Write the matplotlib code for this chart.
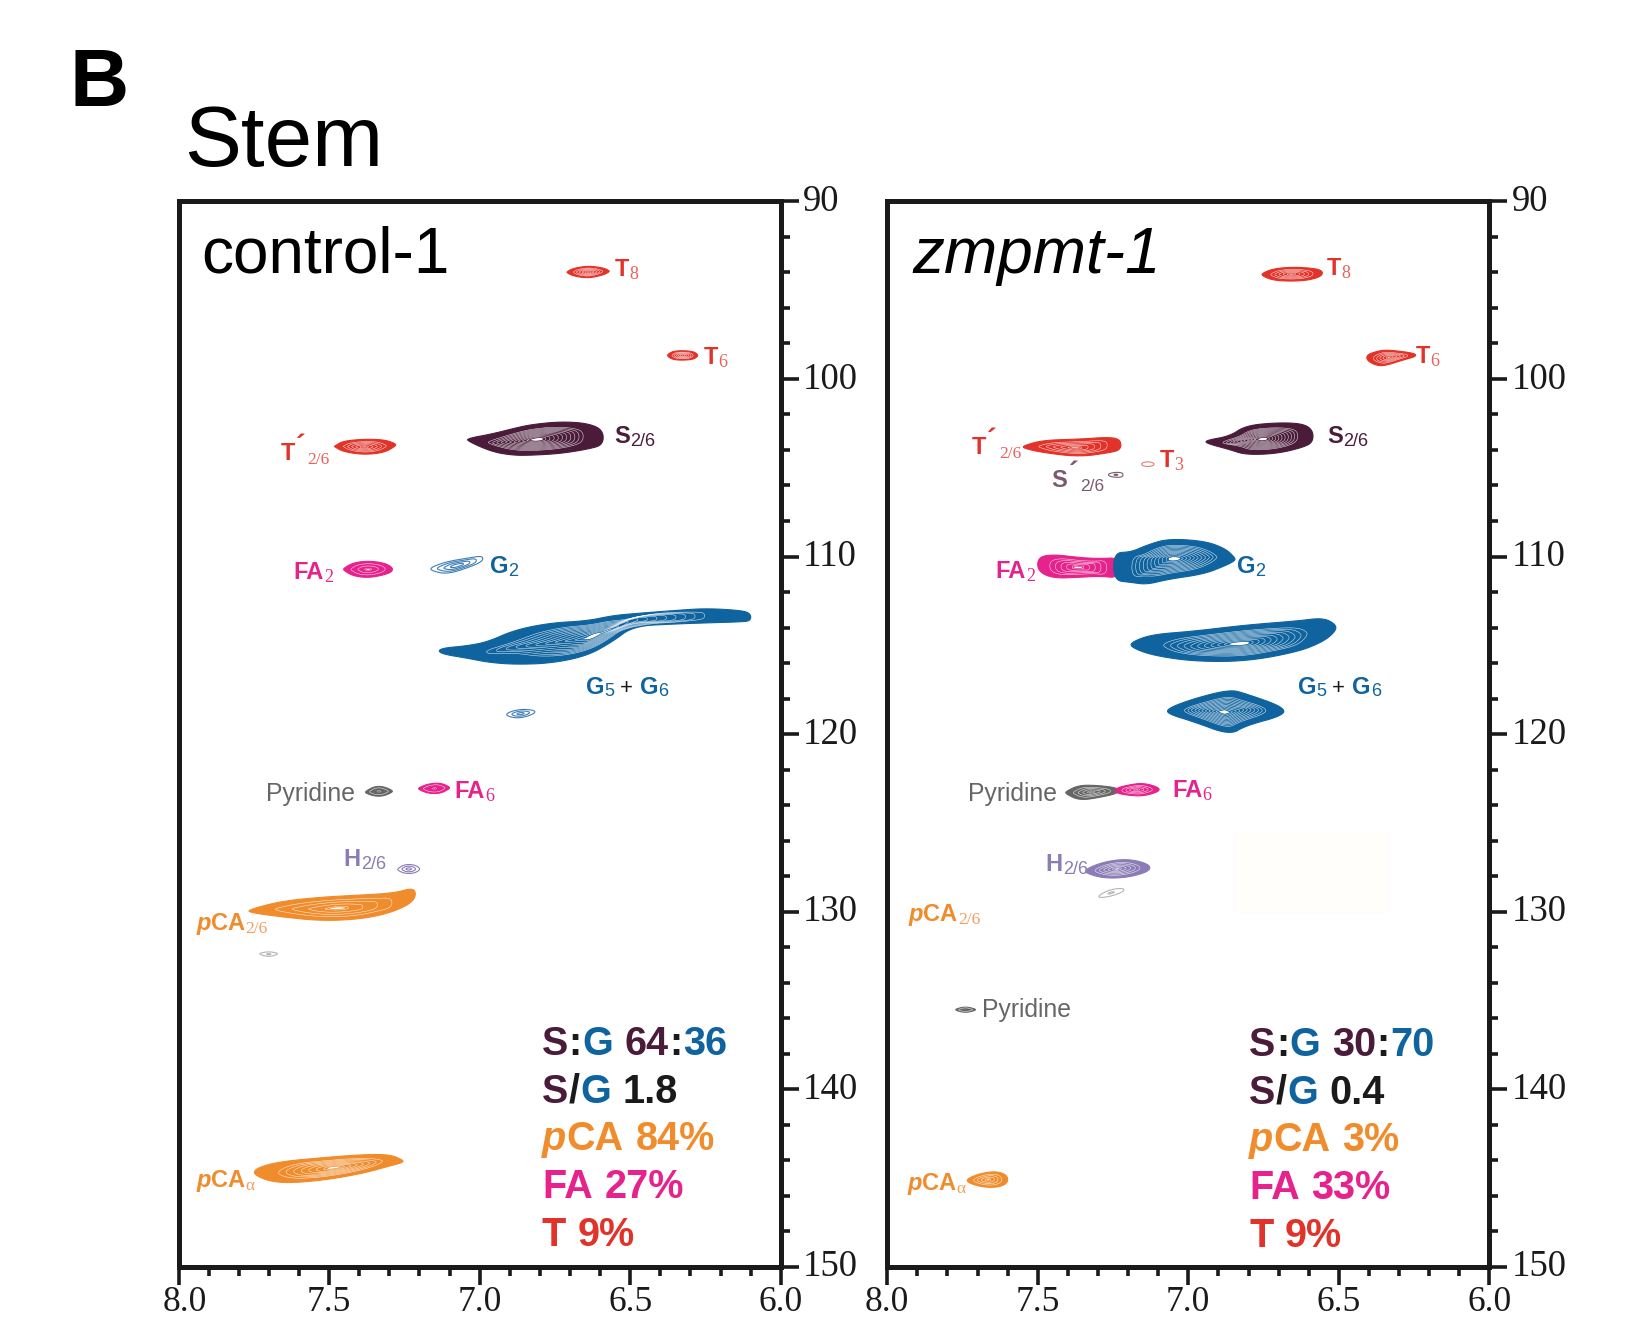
import numpy as np
import matplotlib
matplotlib.use("Agg")
import matplotlib.pyplot as plt
from matplotlib.patches import FancyBboxPatch, Polygon
from matplotlib.transforms import ScaledTranslation

# peaks as (1H ppm, upper 13C ppm, lower 13C ppm)
t8_ctrl = ([6.71, 6.69, 6.64, 6.59, 6.57], [93.98, 93.77, 93.63, 93.74, 93.92], [94.0, 94.2, 94.33, 94.15, 93.95])
t6_ctrl = ([6.376, 6.36, 6.33, 6.29, 6.276], [98.65, 98.45, 98.4, 98.45, 98.65], [98.7, 98.9, 98.95, 98.9, 98.7])
tp26_ctrl = ([7.483, 7.455, 7.386, 7.317, 7.279], [103.8, 103.5, 103.39, 103.42, 103.68], [103.8, 104.09, 104.27, 104.15, 103.74])
s26_ctrl = ([7.04, 6.96, 6.89, 6.83, 6.73, 6.64, 6.59], [103.4, 103.1, 102.8, 102.57, 102.4, 102.5, 103.0], [103.45, 104.1, 104.3, 104.3, 104.2, 103.95, 103.6])
fa2_ctrl = ([7.452, 7.42, 7.37, 7.32, 7.29], [110.7, 110.35, 110.25, 110.35, 110.65], [110.75, 111.1, 111.2, 111.05, 110.8])
g2_ctrl = ([7.162, 7.11, 7.04, 6.99], [110.65, 110.29, 110.09, 110.0], [110.75, 111.0, 110.64, 110.23])
g56_ctrl = ([7.134, 7.041, 6.972, 6.886, 6.766, 6.645, 6.559, 6.49, 6.352, 6.248, 6.128, 6.1],
            [115.26, 115.03, 114.8, 114.15, 113.74, 113.63, 113.33, 113.22, 113.04, 112.92, 113.04, 113.33],
            [115.38, 115.73, 115.96, 116.08, 116.02, 115.61, 114.8, 113.92, 113.8, 113.74, 113.68, 113.51])
g_small_ctrl = ([6.91, 6.88, 6.85, 6.817], [118.85, 118.65, 118.6, 118.7], [118.95, 119.1, 119.05, 118.8])
pyr_ctrl = ([7.379, 7.35, 7.32, 7.29], [123.25, 122.95, 122.95, 123.2], [123.3, 123.5, 123.5, 123.25])
fa6_ctrl = ([7.203, 7.17, 7.13, 7.1], [123.05, 122.8, 122.75, 123.0], [123.1, 123.35, 123.35, 123.05])
h26_ctrl = ([7.272, 7.25, 7.22, 7.2], [127.6, 127.35, 127.35, 127.55], [127.65, 127.85, 127.85, 127.65])
pca26_ctrl = ([7.766, 7.662, 7.524, 7.386, 7.283, 7.214], [129.94, 129.42, 129.18, 129.06, 128.95, 128.71], [130.0, 130.29, 130.53, 130.41, 130.0, 129.3])
grey_ctrl = ([7.73, 7.7, 7.672], [132.35, 132.25, 132.35], [132.4, 132.55, 132.4])
pcaa_ctrl = ([7.748, 7.669, 7.524, 7.386, 7.3, 7.255], [144.56, 144.09, 143.86, 143.68, 143.68, 144.03], [144.8, 145.32, 145.15, 144.74, 144.33, 144.09])

t8_mut = ([6.755, 6.72, 6.66, 6.6, 6.555], [94.09, 93.8, 93.7, 93.74, 93.92], [94.15, 94.44, 94.5, 94.44, 94.15])
t6_mut = ([6.407, 6.375, 6.345, 6.29, 6.245], [98.7, 98.45, 98.36, 98.45, 98.62], [98.9, 99.25, 99.25, 98.95, 98.7])
tp26_mut = ([7.548, 7.483, 7.362, 7.259, 7.224], [103.8, 103.45, 103.39, 103.27, 103.5], [103.86, 104.15, 104.39, 104.15, 103.92])
t3_mut = ([7.155, 7.135, 7.114], [104.75, 104.65, 104.75], [104.85, 104.95, 104.85])
sp26_mut = ([7.265, 7.24, 7.217], [105.35, 105.25, 105.3], [105.45, 105.55, 105.5])
s26_mut = ([6.941, 6.862, 6.81, 6.707, 6.62, 6.586], [103.51, 103.22, 102.63, 102.46, 102.51, 103.0], [103.57, 103.98, 104.27, 104.21, 103.86, 103.45])
fa2_mut = ([7.5, 7.448, 7.362, 7.293, 7.23], [110.12, 109.88, 110.06, 110.12, 110.1], [110.76, 111.23, 111.17, 111.11, 111.17])
g2_mut = ([7.248, 7.19, 7.138, 7.069, 6.948, 6.879, 6.845], [109.9, 109.75, 109.36, 109.0, 109.12, 109.53, 110.12], [111.23, 111.46, 111.58, 111.29, 110.99, 110.53, 110.18])
g56a_mut = ([7.19, 7.121, 6.983, 6.81, 6.638, 6.552, 6.51], [114.91, 114.39, 114.21, 113.86, 113.63, 113.45, 113.92], [115.03, 115.56, 115.91, 115.91, 115.38, 114.8, 114.1])
g56b_mut = ([7.069, 6.983, 6.862, 6.81, 6.683], [118.65, 118.01, 117.49, 117.72, 118.6], [118.77, 119.3, 120.06, 119.53, 118.83])
pyr_mut = ([7.407, 7.362, 7.293, 7.231], [123.27, 122.87, 122.9, 123.1], [123.33, 123.74, 123.57, 123.27])
fa6_mut = ([7.241, 7.2, 7.15, 7.097], [123.1, 122.87, 122.75, 123.05], [123.27, 123.45, 123.5, 123.2])
h26_mut = ([7.341, 7.28, 7.2, 7.128], [127.66, 127.19, 127.02, 127.4], [127.78, 128.13, 128.08, 127.66])
grey_mut = ([7.297, 7.259, 7.214], [129.1, 128.75, 128.7], [129.2, 129.15, 128.85])
pyr2_mut = ([7.772, 7.74, 7.707], [135.5, 135.35, 135.5], [135.55, 135.7, 135.55])
pcaa_mut = ([7.734, 7.69, 7.638, 7.6], [145.09, 144.74, 144.62, 144.91], [145.2, 145.5, 145.55, 145.26])

x_major = [8.0, 7.5, 7.0, 6.5, 6.0]
x_minor = [7.9, 7.8, 7.7, 7.6, 7.4, 7.3, 7.2, 7.1, 6.9, 6.8, 6.7, 6.6, 6.4, 6.3, 6.2, 6.1]
y_major = [90, 100, 110, 120, 130, 140, 150]
y_minor = [92, 94, 96, 98, 102, 104, 106, 108, 112, 114, 116, 118, 122, 124, 126, 128, 132, 134, 136, 138, 142, 144, 146, 148]

PURPLE = "#4a1c3a"
BLUE = "#0f639f"
ORANGE = "#f08c2b"
PINK = "#e6228c"
RED = "#e2332a"
GREY = "#666666"
LILAC = "#8b7cb6"
BLACK = "#1a1a1a"
SANS = "Liberation Sans"
SERIF = "Liberation Serif"

W, H = 1628, 1317
SCALE = W / 1568  # label positions below were read on the shrunk view

plt.rcParams["font.family"] = SANS
fig = plt.figure(figsize=(W / 100, H / 100), dpi=100)
renderer = fig.canvas.get_renderer()


def chaikin(pts, rounds=3):
    for _ in range(rounds):
        nxt = np.roll(pts, -1, axis=0)
        pts = np.column_stack([0.75 * pts + 0.25 * nxt, 0.25 * pts + 0.75 * nxt]).reshape(-1, 2)
    return pts


def outline(peak, s):
    x = np.array(peak[0])
    top = np.array(peak[1])
    bot = np.array(peak[2])
    mid = (top + bot) / 2
    half = (bot - top) / 2
    # fatten only the tips, contours are round there and not pointed
    half[[0, -1]] = half.max() * (half[[0, -1]] / half.max()) ** 0.7
    xc = x.mean()
    xs = xc + (x - xc) * s
    # np.interp needs rising x, ppm runs downwards
    ms = np.interp(xs[::-1], x[::-1], mid[::-1])[::-1]
    upper = np.column_stack([xs, ms - half * s])
    lower = np.column_stack([xs, ms + half * s])
    return chaikin(np.vstack([upper, lower[::-1]]))


def draw_peak(ax, peak, color, levels=10, solid=True):
    if solid:
        ax.add_patch(Polygon(outline(peak, 1.0), closed=True, fc=color, ec=color, lw=0.8, zorder=3))
        for s in np.linspace(0.7, 0.14, levels):
            pts = outline(peak, s)
            ax.add_patch(Polygon(pts, closed=True, fc="none", ec="white", lw=0.38, alpha=0.85, zorder=4))
        ax.add_patch(Polygon(outline(peak, 0.1), closed=True, fc="white", ec=color, lw=0.4, zorder=5))
    else:
        for s in np.linspace(1.0, 0.25, levels):
            ax.add_patch(Polygon(outline(peak, s), closed=True, fc="none", ec=color, lw=0.8, zorder=3))


def write(x, y, pieces):
    # x, y = left end and baseline on the shrunk view; pieces are written one after another
    px = x * SCALE
    py = y * SCALE
    for p in pieces:
        text, color, size = p[:3]
        opts = p[3] if len(p) > 3 else {}
        if text == " ":
            px += 0.278 * size * 100 / 72
            continue
        dy = opts.get("dy", 0)
        t = fig.text(px / W, 1 - (py + dy) / H, text, color=color, fontsize=size, va="baseline", ha="left",
                     family=opts.get("family", SANS), style=opts.get("style", "normal"),
                     weight=opts.get("weight", "bold"))
        px = t.get_window_extent(renderer).x1 + opts.get("gap", 0.5)


def main_sub(text, sub, color, serif=True, light=None):
    fam = SERIF if serif else SANS
    return [(text, color, 17, {"gap": 0}),
            (sub, light or color, 13, {"family": fam, "weight": "normal", "dy": 3})]


def g56(x, y):
    write(x, y, [("G", BLUE, 17, {"gap": 0}), ("5", BLUE, 13, {"weight": "normal", "dy": 2, "gap": 6}),
                 ("+", BLACK, 16, {"weight": "normal", "gap": 7}),
                 ("G", BLUE, 17, {"gap": 0}), ("6", BLUE, 13, {"weight": "normal", "dy": 2})])


def pca(x, y, sub, family):
    write(x, y, [("p", ORANGE, 17, {"style": "italic"}), ("CA", ORANGE, 17),
                 (sub, "#f0a060", 12.5, {"family": family, "weight": "normal", "dy": 3})])


def prime(x, y, letter, color, light, sub_family):
    write(x, y, [(letter, color, 17, {"gap": 1}), ("´", color, 21, {"dy": -5, "gap": 2}),
                 ("2/6", light, 12.5, {"family": sub_family, "weight": "normal", "dy": 4})])


def summary(x, y0, lines):
    for i, line in enumerate(lines):
        write(x, y0 + i * 46, [(t, c, 28.5, {"style": "italic"} if t == "p" else {"gap": 0.5}) for t, c in line])


def setup_axes(left, shift_first=0):
    ax = fig.add_axes([left / W, 1 - 1266.7 / H, 602.2 / W, 1065.3 / H])
    ax.set_xlim(8, 6)
    ax.set_ylim(150, 90)
    ax.yaxis.tick_right()
    for side in ax.spines.values():
        side.set_linewidth(3.6)
        side.set_color(BLACK)
    ax.set_xticks(x_major)
    ax.set_xticks(x_minor, minor=True)
    ax.set_yticks(y_major)
    ax.set_yticks(y_minor, minor=True)
    ax.set_xticklabels(["8.0", "7.5", "7.0", "6.5", "6.0"], family=SERIF, fontsize=25.5, color=BLACK)
    ax.set_yticklabels([str(v) for v in y_major], family=SERIF, fontsize=26.5, color=BLACK)
    ax.tick_params(which="major", length=13, width=2.6, color=BLACK, pad=1)
    ax.tick_params(axis="y", which="major", pad=3)
    ax.tick_params(which="minor", length=6.5, width=2.6, color=BLACK)
    for lab in ax.get_yticklabels():
        lab.set_transform(lab.get_transform() + ScaledTranslation(0, 2.5 / 72, fig.dpi_scale_trans))
    if shift_first:
        first = ax.get_xticklabels()[0]
        first.set_transform(first.get_transform() + ScaledTranslation(shift_first / 100, 0, fig.dpi_scale_trans))
    return ax


ax1 = setup_axes(178.6, shift_first=6)
ax2 = setup_axes(887.2)

ax2.add_patch(FancyBboxPatch((6.335, 125.6), 0.51, 4.5, boxstyle="round,pad=0,rounding_size=0.03",
                             mutation_aspect=8, fc="#fffefb", ec="#fdfcf8", lw=0.6, zorder=1))

for peak in [t8_ctrl, t6_ctrl, tp26_ctrl]:
    draw_peak(ax1, peak, RED, levels=5)
draw_peak(ax1, s26_ctrl, PURPLE, levels=10)
draw_peak(ax1, fa2_ctrl, PINK, levels=3)
draw_peak(ax1, g2_ctrl, "#3f7fb5", levels=4, solid=False)
draw_peak(ax1, g56_ctrl, BLUE, levels=10)
draw_peak(ax1, g_small_ctrl, "#3f7fb5", levels=3, solid=False)
draw_peak(ax1, pyr_ctrl, GREY, levels=2)
draw_peak(ax1, fa6_ctrl, PINK, levels=2)
draw_peak(ax1, h26_ctrl, LILAC, levels=3, solid=False)
draw_peak(ax1, pca26_ctrl, ORANGE, levels=4)
draw_peak(ax1, grey_ctrl, "#b5b5b5", levels=2, solid=False)
draw_peak(ax1, pcaa_ctrl, ORANGE, levels=7)

for peak in [t8_mut, t6_mut, tp26_mut]:
    draw_peak(ax2, peak, RED, levels=5)
draw_peak(ax2, t3_mut, "#e77a78", levels=1, solid=False)
draw_peak(ax2, sp26_mut, "#7a5a70", levels=2, solid=False)
draw_peak(ax2, s26_mut, PURPLE, levels=10)
draw_peak(ax2, fa2_mut, PINK, levels=5)
draw_peak(ax2, g2_mut, BLUE, levels=10)
draw_peak(ax2, g56a_mut, BLUE, levels=10)
draw_peak(ax2, g56b_mut, BLUE, levels=10)
draw_peak(ax2, pyr_mut, GREY, levels=4)
draw_peak(ax2, fa6_mut, PINK, levels=4)
draw_peak(ax2, h26_mut, LILAC, levels=5)
draw_peak(ax2, grey_mut, "#b5b5b5", levels=2, solid=False)
draw_peak(ax2, pyr2_mut, GREY, levels=1)
draw_peak(ax2, pcaa_mut, ORANGE, levels=4)

# panel letter, titles
fig.text(69.5 / W, 1 - 106 / H, "B", fontsize=59, weight="bold", color="black", va="baseline", family=SANS)
fig.text(184 / W, 1 - 166 / H, "Stem", fontsize=61.5, color="black", va="baseline", family=SANS)
fig.text(201 / W, 1 - 272.5 / H, "control-1", fontsize=46, color="black", va="baseline", family=SANS)
fig.text(912 / W, 1 - 272.5 / H, "zmpmt-1", fontsize=46, style="italic", color="black", va="baseline", family=SANS)

# labels, left panel
write(592, 266, main_sub("T", "8", RED, light="#e8605a"))
write(678, 351, main_sub("T", "6", RED, light="#e8605a"))
prime(270, 443, "T", RED, "#e8605a", SERIF)
write(592, 427, main_sub("S", "2/6", PURPLE, serif=False))
write(283, 558, main_sub("FA", "2", PINK))
write(472, 552, main_sub("G", "2", BLUE, serif=False))
g56(564, 668)
write(256, 771, [("Pyridine", GREY, 17.8, {"weight": "normal"})])
write(438, 769, main_sub("FA", "6", PINK))
write(331, 834, main_sub("H", "2/6", LILAC, serif=False))
pca(189, 896, "2/6", SERIF)
pca(189, 1143, "α", SERIF)

# labels, right panel
write(1278, 265, main_sub("T", "8", RED, light="#e8605a"))
write(1364, 350, main_sub("T", "6", RED, light="#e8605a"))
prime(936, 437, "T", RED, "#e8605a", SERIF)
write(1117, 450, main_sub("T", "3", RED, light="#e8605a"))
prime(1013, 469, "S", "#7a5a70", "#7a5a70", SANS)
write(1278, 427, main_sub("S", "2/6", PURPLE, serif=False))
write(959, 557, main_sub("FA", "2", PINK))
write(1191, 552, main_sub("G", "2", BLUE, serif=False))
g56(1250, 668)
write(932, 771, [("Pyridine", GREY, 17.8, {"weight": "normal"})])
write(1129, 768, main_sub("FA", "6", PINK))
write(1007, 839, main_sub("H", "2/6", LILAC, serif=False))
pca(875, 887, "2/6", SERIF)
write(946, 980, [("Pyridine", GREY, 17.8, {"weight": "normal"})])
pca(874, 1146, "α", SERIF)

summary(522, 1016, [
    [("S", PURPLE), (":", BLACK), ("G", BLUE), (" ", BLACK), ("64", PURPLE), (":", BLACK), ("36", BLUE)],
    [("S", PURPLE), ("/", BLACK), ("G", BLUE), (" ", BLACK), ("1.8", BLACK)],
    [("p", ORANGE), ("CA", ORANGE), (" ", ORANGE), ("84%", ORANGE)],
    [("FA", PINK), (" ", PINK), ("27%", PINK)],
    [("T", RED), (" ", RED), ("9%", RED)],
])
summary(1203, 1017, [
    [("S", PURPLE), (":", BLACK), ("G", BLUE), (" ", BLACK), ("30", PURPLE), (":", BLACK), ("70", BLUE)],
    [("S", PURPLE), ("/", BLACK), ("G", BLUE), (" ", BLACK), ("0.4", BLACK)],
    [("p", ORANGE), ("CA", ORANGE), (" ", ORANGE), ("3%", ORANGE)],
    [("FA", PINK), (" ", PINK), ("33%", PINK)],
    [("T", RED), (" ", RED), ("9%", RED)],
])

fig.savefig("out.png", dpi=100, facecolor="white")
